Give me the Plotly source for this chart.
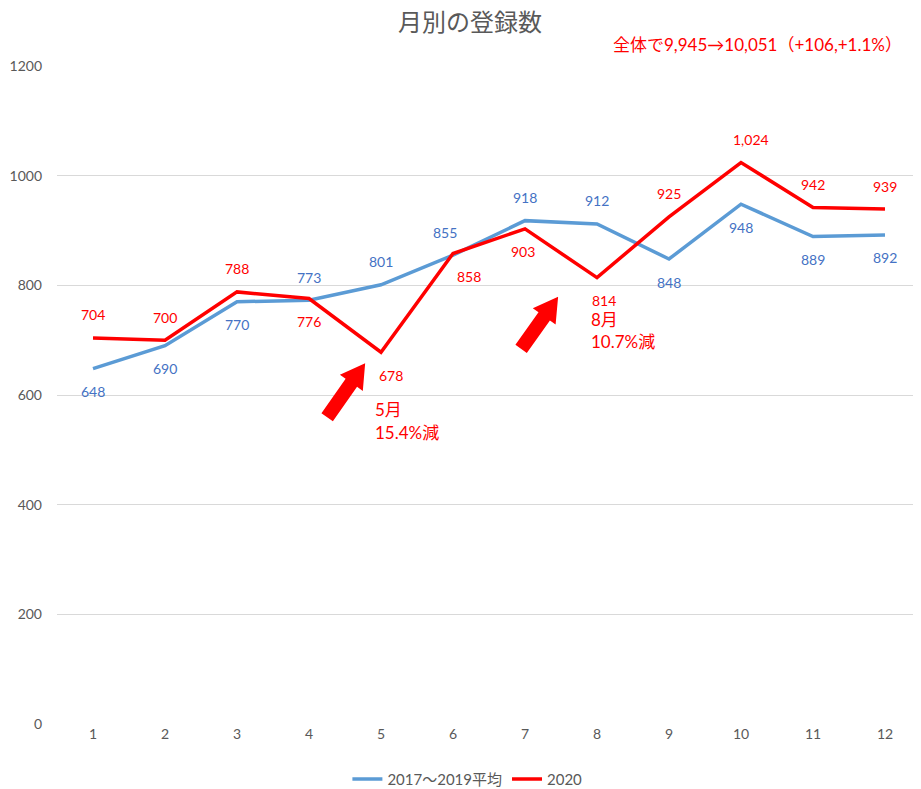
import math
import plotly.graph_objects as go

months = [1, 2, 3, 4, 5, 6, 7, 8, 9, 10, 11, 12]
avg_1719 = [648, 690, 770, 773, 801, 855, 918, 912, 848, 948, 889, 892]
y2020 = [704, 700, 788, 776, 678, 858, 903, 814, 925, 1024, 942, 939]

# ラベルの位置（1=上, -1=下）
avg_side = [-1, -1, -1, 1, 1, 1, 1, 1, -1, -1, -1, -1]
red_side = [1, 1, 1, -1, -1, -1, -1, -1, 1, 1, 1, 1]
# ラベルの横ずれ（画素）
avg_dx = [0, 0, 0, 0, 0, -8, 0, 0, 0, 0, 0, 0]
red_dx = [0, 0, 0, 0, 10, 16, -2, 7, 0, 10, 0, 0]

FONT = "Lato, Noto Sans CJK JP, sans-serif"
BLUE = "#5B9BD5"
RED = "#FF0000"
GRAY = "#595959"

# ページの body に 8px の余白があるので、その分小さく
W, H = 913, 781
ML, MR, MT, MB = 49, 0, 58, 65
PX_X = (W - ML - MR) / 12.0        # 1か月あたりの画素
PX_Y = (H - MT - MB) / 1200.0      # 値1あたりの画素


def arrow_path(tip_x, tip_y, dx, dy, shaft=14, head_w=28, head_l=24):
    # ブロック矢印（dx, dy は先端→根元 の画素ベクトル、下向きが正）
    L = math.hypot(dx, dy)
    ux, uy = -dx / L, -dy / L
    nx, ny = -uy, ux
    pts = []
    base = L - head_l
    for s, w in [(0, shaft / 2), (base, shaft / 2), (base, head_w / 2), (L, 0),
                 (base, -head_w / 2), (base, -shaft / 2), (0, -shaft / 2)]:
        px = dx + ux * s + nx * w
        py = dy + uy * s + ny * w
        pts.append((tip_x + px / PX_X, tip_y - py / PX_Y))
    return "M " + " L ".join(f"{a:.4f},{b:.3f}" for a, b in pts) + " Z"


fig = go.Figure()
fig.add_trace(go.Scatter(x=months, y=avg_1719, name="2017～2019平均", mode="lines",
                         line=dict(color=BLUE, width=3.5)))
fig.add_trace(go.Scatter(x=months, y=y2020, name="2020", mode="lines",
                         line=dict(color=RED, width=3.5)))

for vals, sides, dxs, col in [(avg_1719, avg_side, avg_dx, "#4472C4"),
                              (y2020, red_side, red_dx, RED)]:
    for m, v, s, d in zip(months, vals, sides, dxs):
        fig.add_annotation(x=m, y=v, text=f"{v:,}", showarrow=False,
                           yshift=23 * s, xshift=d,
                           font=dict(color=col, size=14, family=FONT))

# 矢印
fig.add_shape(type="path", path=arrow_path(4.78, 658, -38, 54), xref="x", yref="y",
              fillcolor=RED, line=dict(width=0))
fig.add_shape(type="path", path=arrow_path(7.46, 779, -37, 52), xref="x", yref="y",
              fillcolor=RED, line=dict(width=0))

for x, y, t in [(4.89, 573, "5月"), (4.89, 531, "15.4%減"),
                (7.89, 738, "8月"), (7.89, 697, "10.7%減")]:
    fig.add_annotation(x=x, y=y, xref="x", yref="y", xanchor="left", yanchor="middle",
                       text=t, showarrow=False, font=dict(color=RED, size=17, family=FONT))

fig.add_annotation(x=0.98, y=1.032, xref="paper", yref="paper", xanchor="right", yanchor="middle",
                   text="全体で9,945→10,051（+106,+1.1%）", showarrow=False,
                   font=dict(color=RED, size=17, family=FONT))

fig.update_layout(
    width=W, height=H,
    margin=dict(l=ML, r=MR, t=MT, b=MB, autoexpand=False),
    paper_bgcolor="white", plot_bgcolor="white",
    font=dict(family=FONT, color=GRAY, size=14),
    title=dict(text="月別の登録数", x=0.506, xanchor="center", y=0.981, yanchor="middle",
               font=dict(size=24, color=GRAY, family=FONT)),
    legend=dict(orientation="h", x=0.475, xanchor="center", y=-0.084, yanchor="middle",
                font=dict(size=15, color=GRAY)),
    showlegend=True,
)
fig.update_xaxes(range=[0.5, 12.5], tickvals=months, showgrid=False, zeroline=False,
                 showline=False, ticks="", automargin=False,
                 tickfont=dict(size=14, color=GRAY))
fig.update_yaxes(range=[0, 1200], dtick=200, showgrid=True, gridcolor="#D9D9D9",
                 zeroline=False, showline=False, ticks="", ticklabelstandoff=14,
                 automargin=False, tickfont=dict(size=14, color=GRAY))

fig.write_html("out.html")
